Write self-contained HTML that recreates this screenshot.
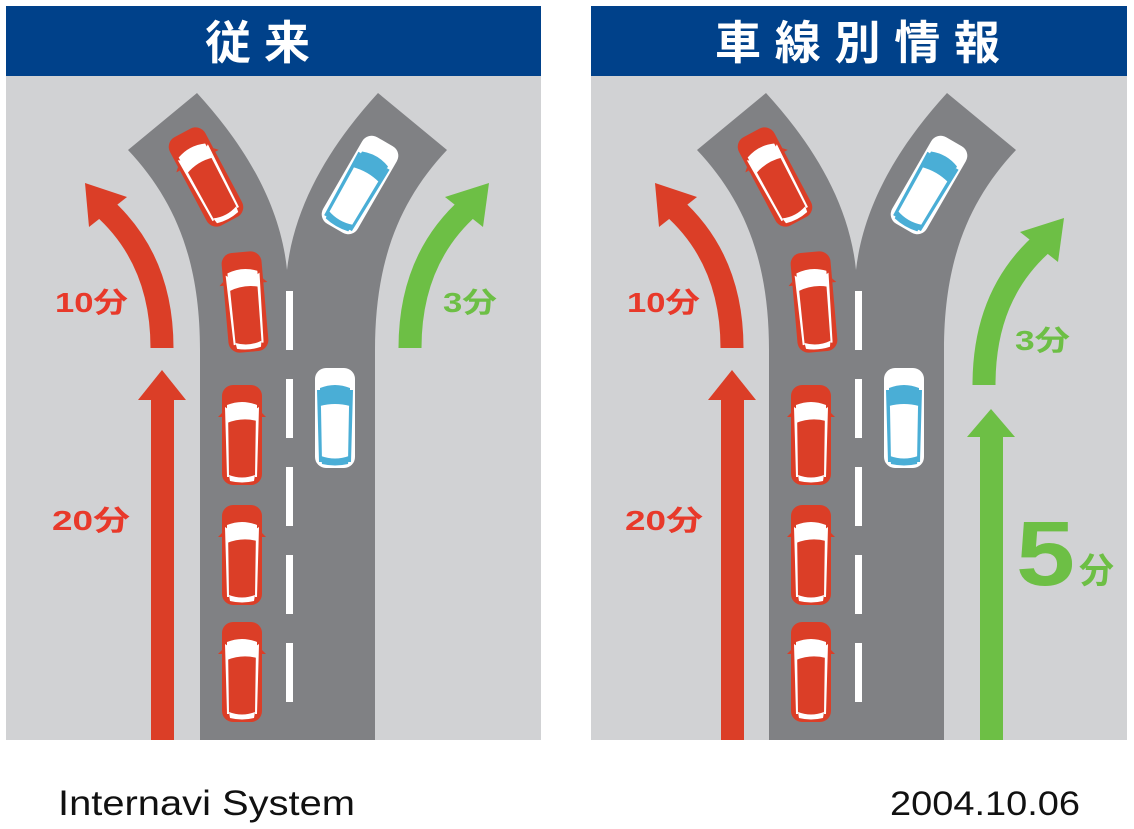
<!DOCTYPE html>
<html><head><meta charset="utf-8"><style>
html,body{margin:0;padding:0;background:#fff;width:1134px;height:829px;overflow:hidden}
svg{display:block}
text{font-family:"Liberation Sans","Noto Sans CJK JP",sans-serif}
</style></head><body>
<svg width="1134" height="829" viewBox="0 0 1134 829" xmlns="http://www.w3.org/2000/svg">
<defs>
<g id="rc">
<rect x="-20" y="-50" width="40" height="100" rx="11" fill="#db3e27"/>
<path d="M-15,-30 Q0,-36 15,-30 L15,-14 Q0,-18 -15,-12 Z" fill="#fff"/>
<path d="M-17,-28 L-15,42 L-13,42 L-14,-26 Z M17,-28 L15,42 L13,42 L14,-26 Z" fill="#fff"/>
<path d="M-13,40 Q0,45 13,40 L12,46 Q0,49 -12,46 Z" fill="#fff"/>
<path d="M-20,-22 L-24,-18 L-20,-18 Z M20,-22 L24,-18 L20,-18 Z" fill="#db3e27"/>
</g>
<g id="bc">
<rect x="-20" y="-50" width="40" height="100" rx="11" fill="#fff"/>
<path d="M-15,-30 Q0,-36 15,-30 L15,-12 Q0,-16 -15,-12 Z" fill="#4aaed6"/>
<path d="M-18,-28 L-16,44 L-13,44 L-14,-10 L-15,-28 Z M18,-28 L16,44 L13,44 L14,-10 L15,-28 Z" fill="#4aaed6"/>
<path d="M-14,38 Q0,43 14,38 L13,46 Q0,49 -13,46 Z" fill="#4aaed6"/>
</g>
<g id="road">
<path d="M128,150 L197,93 C240,140 280,200 287,270 C295,200 335,140 378,93 L447,150 C400,200 375,260 375,350 L375,740 L200,740 L200,350 C200,260 175,200 128,150 Z" fill="#808184"/>
<g fill="#fff">
<rect x="286" y="291" width="7" height="59"/><rect x="286" y="379" width="7" height="59"/><rect x="286" y="467" width="7" height="59"/><rect x="286" y="555" width="7" height="59"/><rect x="286" y="643" width="7" height="59"/>
</g>
<use href="#rc" transform="translate(206,177) rotate(-28)"/>
<use href="#bc" transform="translate(360,185) rotate(30)"/>
<use href="#rc" transform="translate(245,302) rotate(-5)"/>
<use href="#bc" transform="translate(335,418)"/>
<use href="#rc" transform="translate(242,435)"/>
<use href="#rc" transform="translate(242,555)"/>
<use href="#rc" transform="translate(242,672)"/>
</g>
<g id="reds">
<path d="M162,348 C162,290 143,242 102,206" fill="none" stroke="#db3e27" stroke-width="23"/>
<polygon points="85,183 127,197 89,227" fill="#db3e27"/>
<rect x="151" y="398" width="23" height="342" fill="#db3e27"/>
<polygon points="162,370 186,400 138,400" fill="#db3e27"/>
</g>
</defs>
<rect x="6" y="6" width="535" height="70" fill="#00418a"/>
<rect x="6" y="76" width="535" height="664" fill="#d1d2d4"/>
<text x="205" y="59" font-size="46" font-weight="bold" fill="#fff" textLength="105" lengthAdjust="spacing">従来</text>
<use href="#road"/>
<use href="#reds"/>
<path d="M410,348 C410,290 429,242 470,206" fill="none" stroke="#6dbf45" stroke-width="23"/>
<polygon points="489,183 445,197 483,227" fill="#6dbf45"/>
<text x="55" y="312" font-size="28" font-weight="bold" fill="#e8392a" textLength="73" lengthAdjust="spacingAndGlyphs">10分</text>
<text x="52" y="530" font-size="28" font-weight="bold" fill="#e8392a" textLength="78" lengthAdjust="spacingAndGlyphs">20分</text>
<text x="443" y="312" font-size="28" font-weight="bold" fill="#6dbf45" textLength="54" lengthAdjust="spacingAndGlyphs">3分</text>
<rect x="591" y="6" width="536" height="70" fill="#00418a"/>
<rect x="591" y="76" width="536" height="664" fill="#d1d2d4"/>
<text x="715" y="59" font-size="46" font-weight="bold" fill="#fff" textLength="285" lengthAdjust="spacing">車線別情報</text>
<use href="#road" transform="translate(569,0)"/>
<use href="#reds" transform="translate(570,0)"/>
<path d="M984,385 C984,325 1003,277 1045,241" fill="none" stroke="#6dbf45" stroke-width="23"/>
<polygon points="1064,218 1020,232 1058,262" fill="#6dbf45"/>
<rect x="980" y="435" width="23" height="305" fill="#6dbf45"/>
<polygon points="991,409 1015,437 967,437" fill="#6dbf45"/>
<text x="627" y="312" font-size="28" font-weight="bold" fill="#e8392a" textLength="73" lengthAdjust="spacingAndGlyphs">10分</text>
<text x="625" y="530" font-size="28" font-weight="bold" fill="#e8392a" textLength="78" lengthAdjust="spacingAndGlyphs">20分</text>
<text x="1015" y="350" font-size="28" font-weight="bold" fill="#6dbf45" textLength="55" lengthAdjust="spacingAndGlyphs">3分</text>
<text x="1016" y="585" font-size="92" font-weight="bold" fill="#6dbf45" textLength="59" lengthAdjust="spacingAndGlyphs">5</text>
<text x="1079" y="583" font-size="35" font-weight="bold" fill="#6dbf45">分</text>
<text x="58" y="815" font-size="35" fill="#111" textLength="297" lengthAdjust="spacingAndGlyphs">Internavi System</text>
<text x="890" y="815" font-size="34" fill="#111" textLength="190" lengthAdjust="spacingAndGlyphs">2004.10.06</text>
</svg>
</body></html>
